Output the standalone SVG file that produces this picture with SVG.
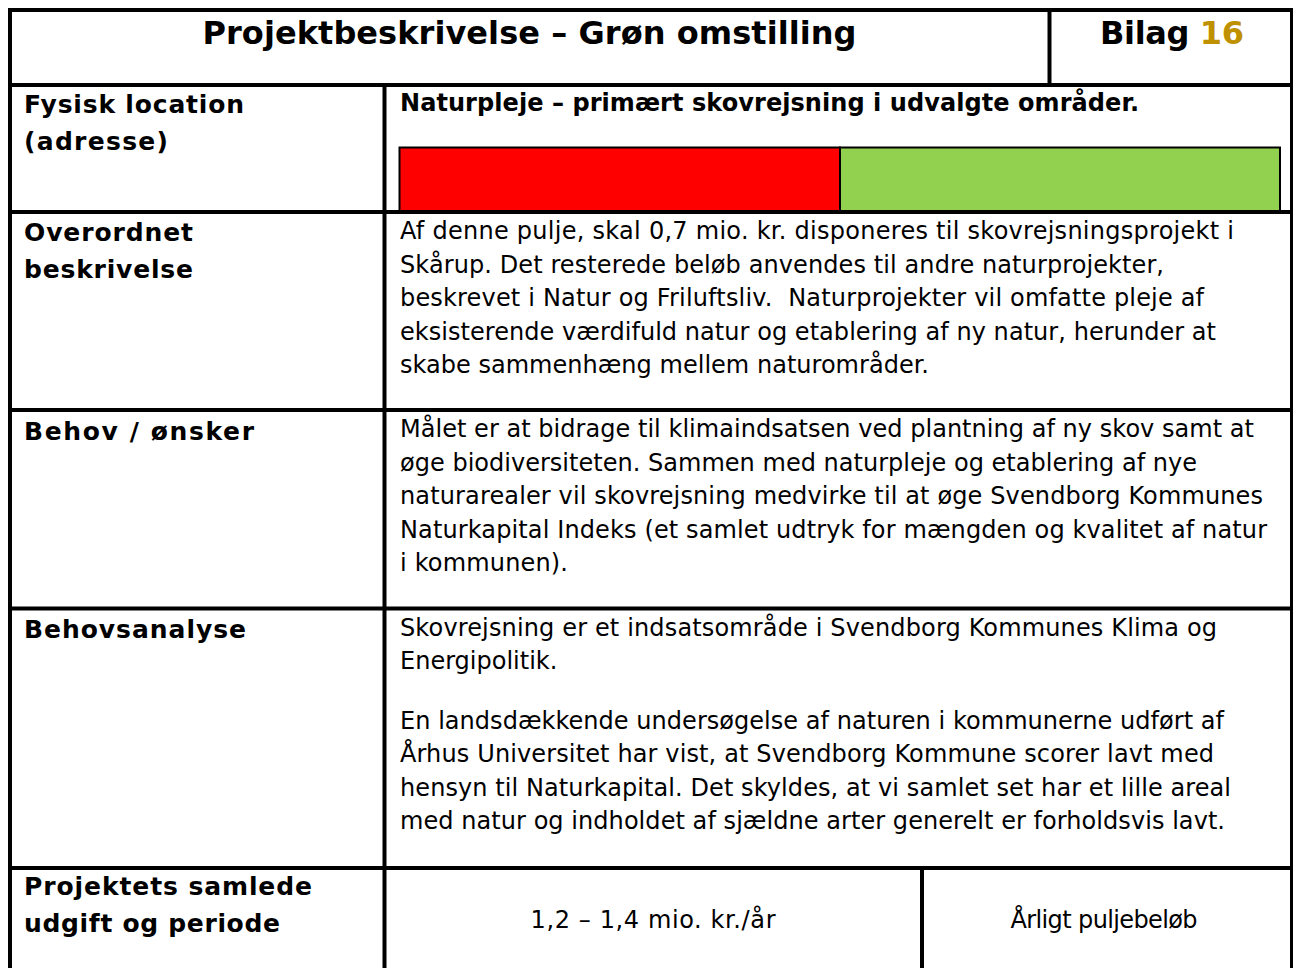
<svg xmlns="http://www.w3.org/2000/svg" width="1293" height="968" viewBox="0 0 1293 968">
<style>
.rule{stroke:#000;stroke-width:4;fill:none}
.t{font-family:"DejaVu Sans","Verdana",sans-serif;fill:#000}
.title{font-size:32px;font-weight:bold}
.lab{font-size:25px;font-weight:bold}
.head{font-size:24px;font-weight:bold}
.body{font-size:24px}
</style>
<rect x="0" y="0" width="1293" height="968" fill="#fff"/>
<g id="bar">
<rect x="399.5" y="147.5" width="440.5" height="64" fill="#FF0000" stroke="#000" stroke-width="2"/>
<rect x="840" y="147.5" width="440" height="64" fill="#92D050" stroke="#000" stroke-width="2"/>
</g>
<g id="grid">
<line class="rule" x1="8" y1="10" x2="1293" y2="10"/>
<line class="rule" x1="10" y1="8" x2="10" y2="968"/>
<line class="rule" x1="1291.5" y1="8" x2="1291.5" y2="968" style="stroke-width:3"/>
<line class="rule" x1="8" y1="85" x2="1293" y2="85"/>
<line class="rule" x1="1049.5" y1="10" x2="1049.5" y2="85"/>
<line class="rule" x1="384.5" y1="85" x2="384.5" y2="968"/>
<line class="rule" x1="8" y1="212" x2="1293" y2="212"/>
<line class="rule" x1="8" y1="410" x2="1293" y2="410"/>
<line class="rule" x1="8" y1="608.5" x2="1293" y2="608.5"/>
<line class="rule" x1="8" y1="868" x2="1293" y2="868"/>
<line class="rule" x1="922" y1="868" x2="922" y2="968"/>
</g>
<g id="header">
<text class="t title" x="529.5" y="44" text-anchor="middle" textLength="654">Projektbeskrivelse – Grøn omstilling</text>
<text class="t title" x="1172" y="44" text-anchor="middle" textLength="144">Bilag <tspan fill="#BF9000">16</tspan></text>
</g>
<g id="row-fysisk">
<text class="t lab" x="24" y="113" textLength="220">Fysisk location</text>
<text class="t lab" x="24" y="150" textLength="144">(adresse)</text>
<text class="t head" x="400" y="111" textLength="739">Naturpleje – primært skovrejsning i udvalgte områder.</text>
</g>
<g id="row-overordnet">
<text class="t lab" x="24" y="241" textLength="169">Overordnet</text>
<text class="t lab" x="24" y="278" textLength="169">beskrivelse</text>
<text class="t body" x="400" y="239" textLength="834">Af denne pulje, skal 0,7 mio. kr. disponeres til skovrejsningsprojekt i</text>
<text class="t body" x="400" y="272.5" textLength="764">Skårup. Det resterede beløb anvendes til andre naturprojekter,</text>
<text class="t body" x="400" y="306" textLength="804" xml:space="preserve">beskrevet i Natur og Friluftsliv.  Naturprojekter vil omfatte pleje af</text>
<text class="t body" x="400" y="339.5" textLength="816">eksisterende værdifuld natur og etablering af ny natur, herunder at</text>
<text class="t body" x="400" y="373" textLength="529">skabe sammenhæng mellem naturområder.</text>
</g>
<g id="row-behov">
<text class="t lab" x="24" y="440" textLength="230">Behov / ønsker</text>
<text class="t body" x="400" y="437" textLength="854">Målet er at bidrage til klimaindsatsen ved plantning af ny skov samt at</text>
<text class="t body" x="400" y="470.5" textLength="797">øge biodiversiteten. Sammen med naturpleje og etablering af nye</text>
<text class="t body" x="400" y="504" textLength="863">naturarealer vil skovrejsning medvirke til at øge Svendborg Kommunes</text>
<text class="t body" x="400" y="537.5" textLength="867">Naturkapital Indeks (et samlet udtryk for mængden og kvalitet af natur</text>
<text class="t body" x="400" y="571" textLength="168">i kommunen).</text>
</g>
<g id="row-behovsanalyse">
<text class="t lab" x="24" y="638" textLength="222">Behovsanalyse</text>
<text class="t body" x="400" y="636" textLength="817">Skovrejsning er et indsatsområde i Svendborg Kommunes Klima og</text>
<text class="t body" x="400" y="669">Energipolitik.</text>
<text class="t body" x="400" y="729" textLength="824">En landsdækkende undersøgelse af naturen i kommunerne udført af</text>
<text class="t body" x="400" y="762" textLength="814">Århus Universitet har vist, at Svendborg Kommune scorer lavt med</text>
<text class="t body" x="400" y="795.5" textLength="831">hensyn til Naturkapital. Det skyldes, at vi samlet set har et lille areal</text>
<text class="t body" x="400" y="829" textLength="825">med natur og indholdet af sjældne arter generelt er forholdsvis lavt.</text>
</g>
<g id="row-udgift">
<text class="t lab" x="24" y="895" textLength="288">Projektets samlede</text>
<text class="t lab" x="24" y="932" textLength="256">udgift og periode</text>
<text class="t body" x="653" y="928" text-anchor="middle" textLength="245">1,2 – 1,4 mio. kr./år</text>
<text class="t body" x="1104" y="928" text-anchor="middle" textLength="187">Årligt puljebeløb</text>
</g>
</svg>
